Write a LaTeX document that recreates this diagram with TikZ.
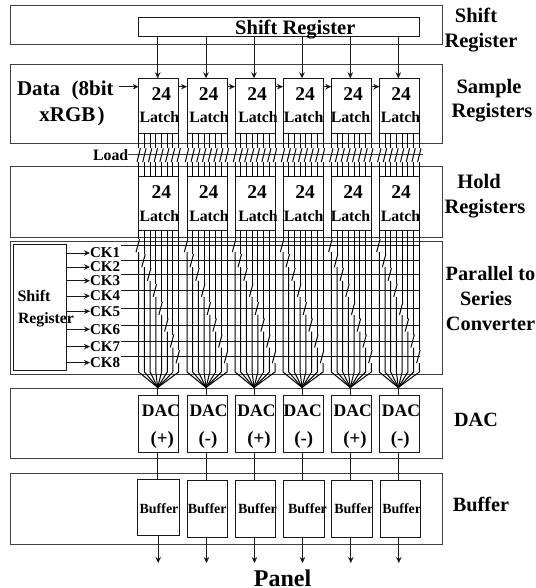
\documentclass[tikz,border=0pt]{standalone}
\usepackage{fontspec}
\setmainfont{Liberation Serif}
\usetikzlibrary{arrows.meta,calc}
\definecolor{panelgray}{HTML}{404040}
\definecolor{wiregray}{HTML}{181818}
\tikzset{
  lbl/.style={font=\fontsize{#1bp}{#1bp}\selectfont\bfseries,text=black,text height=0.66*#1bp,text depth=0bp,inner sep=0pt,outer sep=0pt},
  panelbox/.style={draw=panelgray,line width=1bp,inner sep=0pt,outer sep=0pt,minimum width=432bp},
  cell/.style={draw=wiregray,line width=1bp,inner sep=0pt,outer sep=0pt,minimum width=40bp},
  wire/.style={draw=wiregray,line width=1bp},
  thin wire/.style={draw=black,line width=1bp},
  arrowline/.style={wire,-{Stealth[length=6bp,width=5.5bp]}}
}
\begin{document}
\begin{tikzpicture}[x=1bp,y=-1bp]
\useasboundingbox (0,0) rectangle (536,588);
% panels
\node[panelbox,minimum height=39bp,anchor=north west] (p1) at (10,6) {};
\node[panelbox,minimum height=78.3bp,anchor=north west] (p2) at (10,65) {};
\node[panelbox,minimum height=70.6bp,anchor=north west] (p3) at (10,166.7) {};
\node[panelbox,minimum height=133.3bp,anchor=north west] (p4) at (10,241) {};
\node[panelbox,minimum height=70bp,anchor=north west] (p5) at (10,388) {};
\node[panelbox,minimum height=70.5bp,anchor=north west] (p6) at (10,473.5) {};
% top shift register
\node[cell,minimum width=280.6bp,minimum height=19bp,anchor=north west] (sreg) at (138.7,18) {};
\node[lbl=20.5] (sregt) at (295.3,27.5) {Shift Register};
% columns
\foreach \c/\xl/\ta/\tb/\da/\db/\bu/\sym/\bx/\bw/\by/\bh in {
  1/138.7/161.3/159.3/161/162.3/159/(+)/137.3/42.5/479.7/56,
  2/187/208.7/209/208.6/207.9/207.2/(-)/187/40/480.7/56.8,
  3/235/257/258/256.5/259/257.5/(+)/235/40/480.7/56.8,
  4/283/305/303.7/302.7/303.8/307.5/(-)/283.5/40.5/480.7/56.8,
  5/331.3/353/350.5/352.7/355/353.8/(+)/331.8/40.2/480.7/56.8,
  6/379.3/401/400.5/401/400.3/401.7/(-)/380/40.5/480.7/56.8}{
  \node[cell,minimum height=55bp,anchor=north west] (sa\c) at (\xl,78.3) {};
  \node[cell,minimum height=54bp,anchor=north west] (ho\c) at (\xl,176.7) {};
  \node[cell,minimum height=56.5bp,anchor=north west] (da\c) at (\xl,395.5) {};
  \node[cell,minimum width=\bw bp,minimum height=\bh bp,anchor=north west] (bf\c) at (\bx,\by) {};
  \node[lbl=19.5] (sat\c) at (\ta,94.3) {24};
  \node[lbl=15.8] (sal\c) at (\tb,117.7) {Latch};
  \node[lbl=19.5] (hot\c) at (\ta,191.7) {24};
  \node[lbl=15.8] (hol\c) at (\tb,216) {Latch};
  \node[lbl=17.6] (dat\c) at (\da,410.8) {DAC};
  \node[lbl=18.8] (das\c) at (\db,438) {\sym};
  \node[lbl=14] (bft\c) at (\bu,508.4) {Buffer};
  \coordinate (in\c) at ($(sa\c.north)+(-1,0)$);
  \draw[arrowline] (sreg.south -| in\c) -- (in\c);
  \coordinate (fan\c) at ($(da\c.north)+(-1,-8)$);
  \draw[wire] (fan\c) -- (da\c.north -| fan\c);
  \draw[wire] (da\c.south -| fan\c) -- (bf\c.north -| fan\c);
  \coordinate (out\c) at ($(da\c.south)+(-0.5,111)$);
  \draw[arrowline] (bf\c.south -| out\c) -- (out\c);
}
% chain arrows
\node[lbl=21,anchor=west] (data) at (17,89) {Data\hspace{0.55em}(8bit};
\node[lbl=21] (rgb) at (72,114.7) {xRGB\hspace{0.1em})};
\coordinate (dataend) at (118.7,86.7);
\draw[arrowline] (dataend) -- (dataend -| sa1.west);
\foreach \a/\b in {1/2,2/3,3/4,4/5,5/6}{
  \draw[arrowline] (sa\a.east |- dataend) -- (sa\b.west |- dataend);
}
% load
\node[lbl=15.8] (load) at (110.7,155) {Load};
\coordinate (loadend) at (422.7,155);
\draw[draw=panelgray,line width=1bp] (load.east) -- (loadend);
% CK labels and lines
\node[cell,minimum width=53.4bp,minimum height=126.4bp,anchor=north west] (sr) at (13.3,244.3) {};
\node[lbl=16] (srta) at (34,296.7) {Shift};
\node[lbl=15.7] (srtb) at (46,318) {Register};
\foreach \k/\ya/\yl in {1/253.7/245.7,2/267.7/260.7,3/281.5/274.3,4/296.7/290.3,5/312/308.3,6/330/325,7/347.3/341,8/363.3/356.7}{
  \node[lbl=15,anchor=west] (ck\k) at (90,\ya-0.7) {CK\k};
  \coordinate (ckarrow\k) at (ck\k.west);
  \draw[arrowline] (sr.east |- ckarrow\k) -- (ckarrow\k);
  \coordinate (cks\k) at (121,\yl);
  \coordinate (cke\k) at (420,\yl);
  \draw[wire] (cks\k) -- (cke\k);
}
% 8-wire buses
\foreach \c in {1,...,6}{
  \foreach \k/\yl in {0/245.7,1/260.7,2/274.3,3/290.3,4/308.3,5/325,6/341,7/356.7}{
    \pgfmathsetmacro{\dx}{\k*40/7}
    \coordinate (ta) at ($(sa\c.south west)+(\dx,0)$);
    \coordinate (tb) at ($(sa\c.south west)+(\dx,15)$);
    \coordinate (tc) at ($(sa\c.south west)+(\dx,28.7)$);
    \coordinate (td) at ($(ho\c.north west)+(\dx,0)$);
    \draw[thin wire] (ta) -- (tb);
    \draw[thin wire] ($(tc)+(-1.7,0)$) -- ($(tb)+(1.7,0)$);
    \draw[thin wire] (tc) -- (td);
    \coordinate (ua) at ($(ho\c.south west)+(\dx,0)$);
    \pgfmathsetmacro{\ytop}{\yl-6.5}
    \pgfmathsetmacro{\ybot}{\yl+6.5}
    \coordinate (ub) at ($(ua |- 0,\ytop)$);
    \coordinate (uc) at ($(ua |- 0,\ybot)$);
    \coordinate (ud) at ($(ua |- 0,372)$);
    \draw[thin wire] (ua) -- (ub);
    \draw[thin wire] ($(uc)+(-2.7,0)$) -- ($(ub)+(0.8,0)$);
    \draw[thin wire] (uc) -- (ud) -- (fan\c);
  }
}
% right labels
\node[lbl=20.5] (r1) at (476,15.7) {Shift};
\node[lbl=20.5] (r2) at (481,40.7) {Register};
\node[lbl=20.5] (r3) at (489,86.7) {Sample};
\node[lbl=20.5] (r4) at (492,111) {Registers};
\node[lbl=20.5] (r5) at (479,182) {Hold};
\node[lbl=20.5] (r6) at (485,207) {Registers};
\node[lbl=20.3] (r7) at (490.5,274) {Parallel to};
\node[lbl=20.3] (r8) at (486,299) {Series};
\node[lbl=20.3] (r9) at (490.5,324) {Converter};
\node[lbl=20.2] (r10) at (476,420) {DAC};
\node[lbl=20.3] (r11) at (481,505) {Buffer};
\node[lbl=24] (panel) at (282.5,578.5) {Panel};
\end{tikzpicture}
\end{document}
